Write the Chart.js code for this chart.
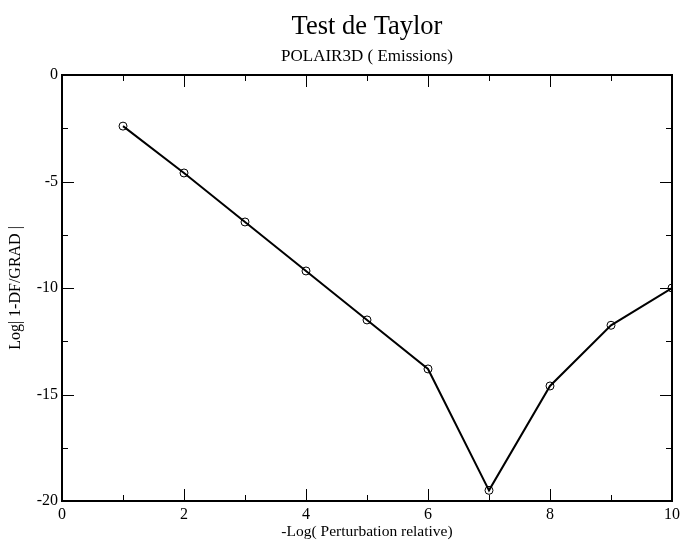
<!DOCTYPE html>
<html>
<head>
<meta charset="utf-8">
<script src="https://cdn.jsdelivr.net/npm/chart.js@4.4.0/dist/chart.umd.min.js"></script>
<style>
  html, body { margin: 0; padding: 0; background: #fff; }
  #wrap { width: 681px; height: 541px; }
</style>
</head>
<body>
<div id="wrap"><canvas id="myChart"></canvas></div>
<script>
// data
const perturbation = [1, 2, 3, 4, 5, 6, 7, 8, 9, 10];
const logError = [-2.4, -4.6, -6.9, -9.2, -11.5, -13.8, -19.5, -14.6, -11.75, -10.0];
const titleText = "Test de Taylor";
const subtitleText = "POLAIR3D ( Emissions)";

const serif = "'Liberation Serif', 'DejaVu Serif', serif";

// frame + inward ticks on all four sides, titles centred over the plot
const framePlugin = {
  id: "frameTicks",
  afterDatasetsDraw: (chart) => {
    const { ctx, chartArea: a, scales } = chart;
    const xs = scales.x, ys = scales.y;
    ctx.save();
    ctx.strokeStyle = "#000";
    ctx.lineWidth = 1;
    for (let v = xs.min + 1; v < xs.max; v += 1) {
      let len = v % 2 === 0 ? 12 : 6;
      let px = Math.round(xs.getPixelForValue(v)) + 0.5;
      ctx.beginPath();
      ctx.moveTo(px, a.bottom); ctx.lineTo(px, a.bottom - len);
      ctx.moveTo(px, a.top); ctx.lineTo(px, a.top + len);
      ctx.stroke();
    }
    for (let v = ys.min + 2.5; v < ys.max; v += 2.5) {
      let len = v % 5 === 0 ? 12 : 6;
      let py = Math.round(ys.getPixelForValue(v)) + 0.5;
      ctx.beginPath();
      ctx.moveTo(a.left, py); ctx.lineTo(a.left + len, py);
      ctx.moveTo(a.right, py); ctx.lineTo(a.right - len, py);
      ctx.stroke();
    }
    ctx.lineWidth = 2;
    ctx.strokeRect(a.left, a.top, a.right - a.left, a.bottom - a.top);

    let cx = (a.left + a.right) / 2;
    ctx.fillStyle = "#000";
    ctx.textAlign = "center";
    ctx.textBaseline = "alphabetic";
    ctx.font = "26.5px " + serif;
    ctx.fillText(titleText, cx, 33.5);
    ctx.font = "17px " + serif;
    ctx.fillText(subtitleText, cx, 61);
    ctx.restore();
  },
};

const ctx = document.getElementById("myChart");

var chart = new Chart(ctx, {
  type: "line",
  data: {
    datasets: [
      {
        label: "Taylor",
        data: perturbation.map((p, i) => ({ x: p, y: logError[i] })),
        borderColor: "#000",
        borderWidth: 2,
        tension: 0,
        fill: false,
        pointStyle: "circle",
        pointRadius: 4,
        pointBorderWidth: 1,
        pointBorderColor: "#000",
        pointBackgroundColor: "rgba(0,0,0,0)",
      },
    ],
  },
  options: {
    responsive: true,
    maintainAspectRatio: false,
    animation: false,
    layout: { padding: { left: 0, right: 9, top: 75, bottom: 0 } },
    plugins: {
      legend: { display: false },
      tooltip: { enabled: false },
      title: { display: false },
    },
    scales: {
      x: {
        type: "linear",
        min: 0,
        max: 10,
        grid: { display: false, drawTicks: false },
        border: { display: false },
        ticks: {
          stepSize: 2,
          color: "#000",
          padding: 4,
          maxRotation: 0,
          font: { family: serif, size: 16 },
        },
        title: {
          display: true,
          text: "-Log( Perturbation relative)",
          color: "#000",
          padding: { top: 0, bottom: 0 },
          font: { family: serif, size: 15.5 },
        },
        afterFit: (scale) => {
          scale.height = 40;
          scale.paddingRight = 0;
        },
      },
      y: {
        type: "linear",
        min: -20,
        max: 0,
        grid: { display: false, drawTicks: false },
        border: { display: false },
        ticks: {
          stepSize: 5,
          color: "#000",
          padding: 4,
          font: { family: serif, size: 16 },
        },
        title: {
          display: true,
          text: "Log| 1-DF/GRAD |",
          color: "#000",
          padding: { top: 6, bottom: 0 },
          font: { family: serif, size: 16 },
        },
        afterFit: (scale) => { scale.width = 62; },
      },
    },
  },
  plugins: [framePlugin],
});
</script>
</body>
</html>
